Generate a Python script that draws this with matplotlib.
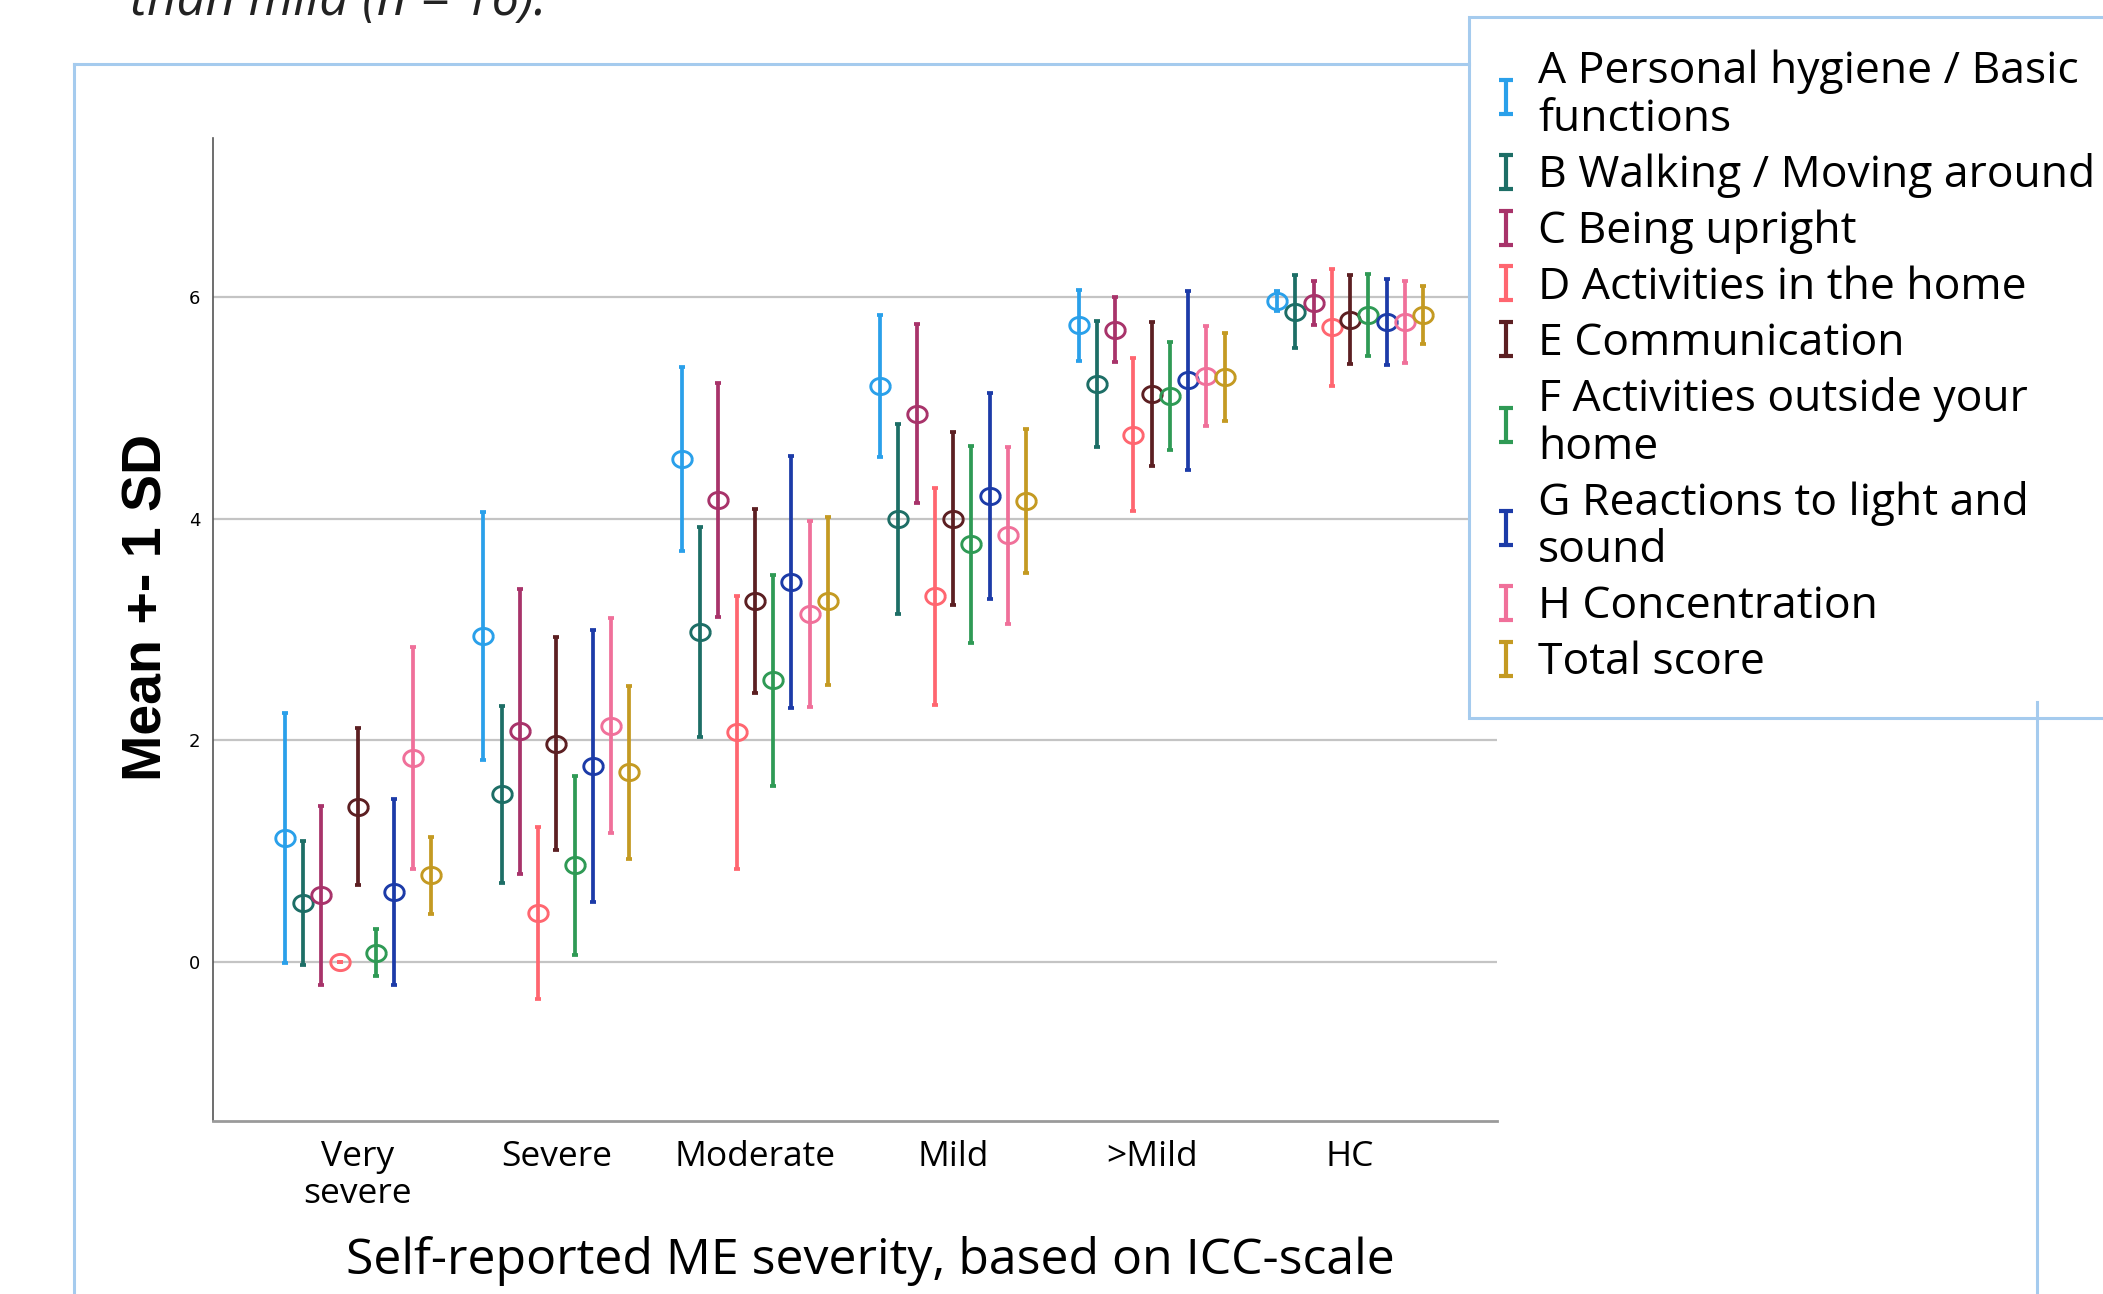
import numpy as np
import matplotlib
matplotlib.use("Agg")
import matplotlib.pyplot as plt
from matplotlib.lines import Line2D
from matplotlib.path import Path

W, H = 2103, 1294

groups = ["Very\nsevere", "Severe", "Moderate", "Mild", ">Mild", "HC"]

labels = ["A Personal hygiene / Basic\nfunctions", "B Walking / Moving around",
          "C Being upright", "D Activities in the home", "E Communication",
          "F Activities outside your\nhome", "G Reactions to light and\nsound",
          "H Concentration", "Total score"]

colors = ["#2aa0ea", "#1d6e66", "#a8336a", "#ff6670", "#5c1f22",
          "#2f9a55", "#1c3ba8", "#f0709a", "#c49a22"]

# mean per group (Very severe .. HC)
mean_a = [1.12, 2.94, 4.54, 5.20, 5.75, 5.97]
mean_b = [0.53, 1.51, 2.98, 4.00, 5.22, 5.87]
mean_c = [0.60, 2.08, 4.17, 4.95, 5.71, 5.95]
mean_d = [0.00, 0.44, 2.07, 3.30, 4.76, 5.73]
mean_e = [1.40, 1.97, 3.26, 4.00, 5.13, 5.80]
mean_f = [0.08, 0.87, 2.54, 3.77, 5.11, 5.84]
mean_g = [0.63, 1.77, 3.43, 4.21, 5.25, 5.78]
mean_h = [1.84, 2.13, 3.14, 3.85, 5.29, 5.78]
mean_t = [0.78, 1.71, 3.26, 4.16, 5.28, 5.84]

# 1 SD per group
sd_a = [1.13, 1.12, 0.83, 0.64, 0.32, 0.09]
sd_b = [0.56, 0.80, 0.95, 0.86, 0.57, 0.33]
sd_c = [0.81, 1.29, 1.06, 0.81, 0.29, 0.20]
sd_d = [0.00, 0.78, 1.23, 0.98, 0.69, 0.53]
sd_e = [0.71, 0.96, 0.83, 0.78, 0.65, 0.40]
sd_f = [0.21, 0.81, 0.95, 0.89, 0.49, 0.37]
sd_g = [0.84, 1.23, 1.14, 0.93, 0.81, 0.39]
sd_h = [1.00, 0.97, 0.84, 0.80, 0.45, 0.37]
sd_t = [0.35, 0.78, 0.76, 0.65, 0.40, 0.26]

means = [mean_a, mean_b, mean_c, mean_d, mean_e, mean_f, mean_g, mean_h, mean_t]
sds = [sd_a, sd_b, sd_c, sd_d, sd_e, sd_f, sd_g, sd_h, sd_t]

frame_col = "#a5cbee"


def fx(x):
    return x / W


def fy(y):
    return 1 - y / H


fig = plt.figure(figsize=(W / 100, H / 100), dpi=100)
ax = fig.add_axes([fx(213), fy(1121), fx(1497) - fx(213), fy(138) - fy(1121)])

# slightly wide open circle marker
t = np.linspace(0, 2 * np.pi, 60)
ellipse = Path(np.column_stack([1.2 * np.cos(t), np.sin(t)]))

x = np.arange(len(groups))
step = 0.092
for i in range(len(labels)):
    ax.errorbar(x + (i - 4) * step, means[i], yerr=sds[i], fmt="none",
                ecolor=colors[i], elinewidth=2.7, capsize=2, capthick=2.7)
    ax.plot(x + (i - 4) * step, means[i], ls="none", marker=ellipse, ms=14,
            mfc="none", mec=colors[i], mew=2.1)

ax.set_xlim(-0.73, 5.74)
ax.set_ylim(-1.44, 7.44)
ax.set_yticks([0, 2, 4, 6])
ax.set_yticklabels(["0", "2", "4", "6"], fontsize=13)
ax.set_xticks(x)
ax.set_xticklabels(groups, fontsize=25.5, family="Open Sans", linespacing=1.1)
ax.tick_params(axis="x", length=0, pad=14)
ax.tick_params(axis="y", length=0, pad=9)
ax.grid(axis="y", color="#c4c4c4", lw=1.6)
ax.set_axisbelow(True)
for s in ["top", "right"]:
    ax.spines[s].set_visible(False)
ax.spines["left"].set_color("#555555")
ax.spines["left"].set_linewidth(1.2)
ax.spines["bottom"].set_color("#9a9a9a")
ax.spines["bottom"].set_linewidth(2)

# legend with error-bar style "I" icons
ibeam = Path([(-0.4, -1), (0.4, -1), (0, -1), (0, 1), (-0.4, 1), (0.4, 1)],
             [Path.MOVETO, Path.LINETO, Path.MOVETO, Path.LINETO, Path.MOVETO, Path.LINETO])
handles = [Line2D([], [], ls="none", marker=ibeam, ms=25, mew=3, color=c, mfc="none")
           for c in colors]
leg = ax.legend(handles, labels, loc="upper left", bbox_to_anchor=(fx(1469), fy(17)),
                bbox_transform=fig.transFigure, borderaxespad=0,
                prop={"family": "Open Sans", "size": 32}, frameon=True, fancybox=False,
                framealpha=1, edgecolor=frame_col, handlelength=0.18, handletextpad=0.63,
                labelspacing=0.255, borderpad=0.74)
leg.get_frame().set_linewidth(2.2)
for txt in leg.get_texts():
    txt.set_linespacing(1.09)

# page frame lines from the screenshot
fig.add_artist(Line2D([fx(74), fx(1469)], [fy(64), fy(64)], color=frame_col, lw=2.2))
fig.add_artist(Line2D([fx(74), fx(74)], [fy(64), fy(H + 5)], color=frame_col, lw=2.2))
fig.add_artist(Line2D([fx(2037), fx(2037)], [fy(702), fy(H + 5)], color=frame_col, lw=2.2))

fig.text(fx(147), fy(607), "Mean +- 1 SD", rotation=90, ha="center", va="center",
         fontsize=40, fontweight="bold", family="Liberation Sans")
fig.text(fx(870), fy(1274), "Self-reported ME severity, based on ICC-scale", ha="center",
         va="baseline", fontsize=36, family="Open Sans")
fig.text(fx(130), fy(15), "than mild (n = 16).", ha="left", va="baseline", fontsize=37,
         fontstyle="italic", family="Open Sans", color="#222222")

fig.savefig("out.png", dpi=100)
